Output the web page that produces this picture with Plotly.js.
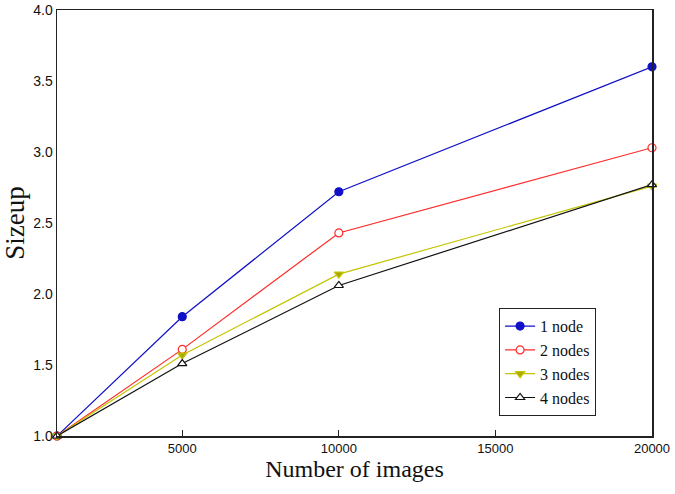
<!DOCTYPE html>
<html>
<head>
<meta charset="utf-8">
<script src="https://cdn.plot.ly/plotly-3.0.1.min.js"></script>
<style>
  html, body { margin: 0; padding: 0; background: white; }
  #chart { width: 675px; height: 494px; }
</style>
</head>
<body>
<div id="chart"></div>
<script>
// number of images
const images = [1000, 5000, 10000, 20000];

// sizeup per node count
const node1 = [1.0, 1.84, 2.72, 3.60];
const node2 = [1.0, 1.61, 2.43, 3.03];
const node3 = [1.0, 1.57, 2.14, 2.76];
const node4 = [1.0, 1.51, 2.06, 2.77];

const seriesNames = ["1 node", "2 nodes", "3 nodes", "4 nodes"];
const xTicks = [5000, 10000, 15000, 20000];
const yTicks = [1.0, 1.5, 2.0, 2.5, 3.0, 3.5, 4.0];

function makeTrace(y, name, color, symbol, fill) {
    return {
        x: images,
        y: y,
        type: "scatter",
        mode: "lines+markers",
        name: name,
        line: {color: color, width: 1.2},
        marker: {
            symbol: symbol,
            size: 8,
            color: fill,
            line: {color: color, width: 1.2}
        },
        cliponaxis: false
    };
}

const traces = [
    makeTrace(node1, seriesNames[0], "#1010c8", "circle", "#1010c8"),
    makeTrace(node2, seriesNames[1], "#ff2a2a", "circle", "white"),
    makeTrace(node3, seriesNames[2], "#c4c400", "triangle-down", "#a8a800"),
    makeTrace(node4, seriesNames[3], "#111111", "triangle-up", "white")
];

const layout = {
    width: 675,
    height: 494,
    margin: {l: 57, r: 23, t: 10, b: 58},
    paper_bgcolor: "white",
    plot_bgcolor: "white",
    showlegend: true,
    font: {family: "Liberation Sans, Arial, sans-serif", size: 13, color: "#111"},
    xaxis: {
        range: [1000, 20000],
        tickvals: xTicks,
        ticktext: xTicks.map(v => String(v)),
        ticks: "inside",
        ticklen: 6,
        tickcolor: "#222",
        showgrid: false,
        zeroline: false,
        showline: true,
        linecolor: "#222",
        linewidth: 1.5,
        mirror: true,
        tickfont: {family: "Liberation Sans, Arial, sans-serif", size: 13, color: "#111"},
        title: {
            text: "Number of images",
            font: {family: "Liberation Serif, Times New Roman, serif", size: 24, color: "#111"},
            standoff: 4
        }
    },
    yaxis: {
        range: [1, 4],
        tickvals: yTicks,
        ticktext: yTicks.map(v => v.toFixed(1)),
        ticks: "",
        showgrid: false,
        zeroline: false,
        showline: true,
        linecolor: "#222",
        linewidth: 1.5,
        mirror: true,
        tickfont: {family: "Liberation Sans, Arial, sans-serif", size: 14, color: "#111"},
        title: {
            text: "Sizeup",
            font: {family: "Liberation Serif, Times New Roman, serif", size: 27, color: "#111"},
            standoff: 2
        }
    },
    legend: {
        x: 0.743,
        y: 0.30,
        xanchor: "left",
        yanchor: "top",
        bgcolor: "white",
        bordercolor: "#222",
        borderwidth: 1,
        font: {family: "Liberation Serif, Times New Roman, serif", size: 16, color: "#111"},
        tracegroupgap: 0,
        itemwidth: 30
    }
};

Plotly.newPlot("chart", traces, layout, {displayModeBar: false, staticPlot: true});
</script>
</body>
</html>
